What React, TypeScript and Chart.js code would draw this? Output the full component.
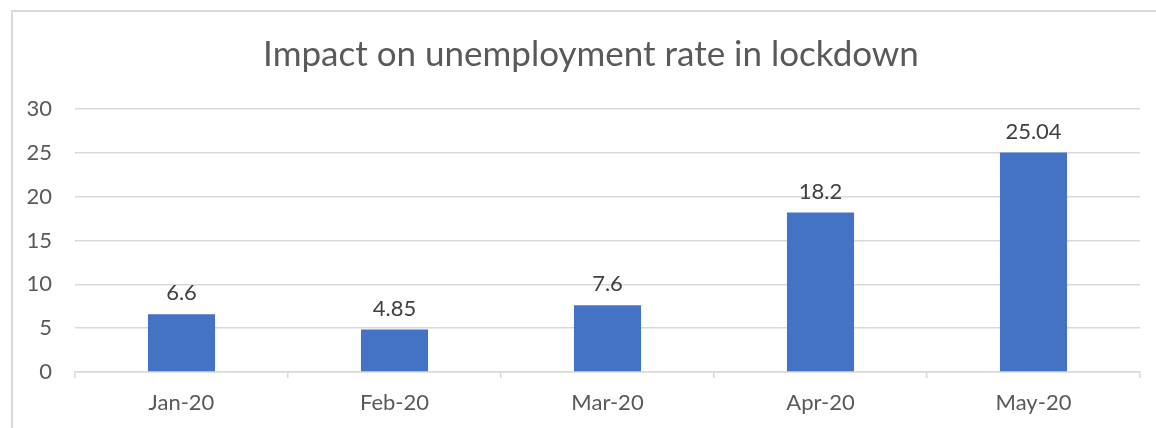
import React, { useEffect, useRef } from "react";
import { Chart, registerables } from "chart.js";

Chart.register(...registerables);

const categories = ["Jan-20", "Feb-20", "Mar-20", "Apr-20", "May-20"];
const rates = [6.6, 4.85, 7.6, 18.2, 25.04];
const rateLabels = ["6.6", "4.85", "7.6", "18.2", "25.04"];
const titleText = "Impact on unemployment rate in lockdown";

const FONT = "Lato, 'Liberation Sans', sans-serif";

const valueLabels = {
  id: "valueLabels",
  afterDatasetsDraw(chart: any) {
    const ctx = chart.ctx;
    const meta = chart.getDatasetMeta(0);
    ctx.save();
    ctx.font = `22px ${FONT}`;
    ctx.fillStyle = "#404040";
    ctx.textAlign = "center";
    ctx.textBaseline = "bottom";
    meta.data.forEach((bar: any, i: number) => {
      ctx.fillText(rateLabels[i], bar.x, bar.y - 10);
    });
    ctx.restore();
  },
};

export default function App() {
  const ref = useRef<HTMLCanvasElement>(null);
  useEffect(() => {
    if (!ref.current) return;
    const chart = new Chart(ref.current, {
      type: "bar",
      data: {
        labels: categories,
        datasets: [
          {
            data: rates,
            backgroundColor: "#4472C4",
            barPercentage: 0.315,
            categoryPercentage: 1,
            yAxisID: "y",
          },
        ],
      },
      options: {
        responsive: false,
        animation: false,
        layout: { padding: 0 },
        plugins: {
          legend: { display: false },
          tooltip: { enabled: false },
          title: {
            display: true,
            text: titleText,
            color: "#595959",
            font: { family: FONT, size: 35, weight: "normal" as any },
            padding: { top: 22, bottom: 33 },
          },
        },
        scales: {
          x: {
            afterFit: (s: any) => {
              s.height = 68;
            },
            grid: {
              display: true,
              drawOnChartArea: false,
              drawTicks: true,
              tickLength: 6,
              offset: true,
              color: "#d9d9d9",
              lineWidth: 1.5,
            },
            border: { display: true, color: "#d9d9d9", width: 1.5 },
            ticks: {
              color: "#595959",
              font: { family: FONT, size: 22 },
              padding: 12,
            },
          },
          y: {
            position: "left",
            min: 0,
            max: 30,
            afterFit: (s: any) => {
              s.width = 62;
            },
            grid: { color: "#d9d9d9", lineWidth: 1.5, drawTicks: false },
            border: { display: false },
            ticks: {
              stepSize: 5,
              color: "#595959",
              font: { family: FONT, size: 22 },
              padding: 23,
            },
          },
          spacer: {
            type: "linear",
            position: "right",
            min: 0,
            max: 30,
            afterFit: (s: any) => {
              s.width = 29;
            },
            grid: { display: false, drawTicks: false },
            border: { display: false },
            ticks: { display: false },
          },
        },
      },
      plugins: [valueLabels],
    });
    return () => chart.destroy();
  }, []);
  return (
    <div
      style={{
        position: "fixed",
        left: 11,
        top: 10,
        width: 1200,
        height: 460,
        borderLeft: "2px solid #d9d9d9",
        borderTop: "2px solid #d9d9d9",
        background: "#fff",
      }}
    >
      <canvas ref={ref} width={1156} height={428} style={{ display: "block" }} />
    </div>
  );
}
